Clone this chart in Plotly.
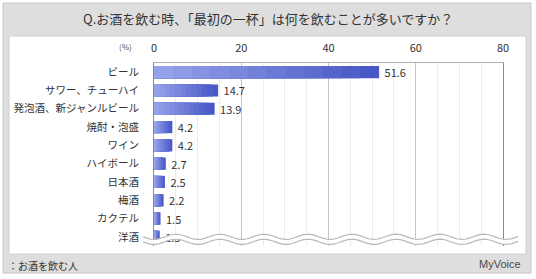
import numpy as np
import plotly.graph_objects as go

categories = ["ビール", "サワー、チューハイ", "発泡酒、新ジャンルビール", "焼酎・泡盛", "ワイン",
              "ハイボール", "日本酒", "梅酒", "カクテル", "洋酒"]
values = [51.6, 14.7, 13.9, 4.2, 4.2, 2.7, 2.5, 2.2, 1.5, 1.3]
x_ticks = [0, 20, 40, 60, 80]

W, H = 536, 279
L, R, T, B = 154, 33, 63, 33
PW, PH = W - L - R, H - T - B
FONT = "Noto Sans CJK JP, Meiryo, sans-serif"

def px(x):
    return (x - L) / PW

def py(y):
    return 1 - (y - T) / PH

fig = go.Figure()

# gradient bars (dark at right end, lighter toward left) via overlaid layers
N = 12
dark = np.array([0x48, 0x58, 0xc6])
light = np.array([0x95, 0xa2, 0xea])
for k in range(N):
    frac = (N - k) / N
    c = dark + (light - dark) * (k / (N - 1))
    col = "rgb(%d,%d,%d)" % tuple(c.astype(int))
    fig.add_trace(go.Bar(
        y=categories, x=[v * frac for v in values], orientation="h",
        marker=dict(color=col, line=dict(width=0)),
        width=0.66,
        text=["\u00a0" + f"{v:.1f}" for v in values] if k == 0 else None,
        textposition="outside" if k == 0 else "none",
        constraintext="none",
        textfont=dict(size=11, color="#333333", family=FONT),
        cliponaxis=False, hoverinfo="skip", showlegend=False,
    ))

fig.update_layout(
    width=W, height=H, margin=dict(l=L, r=R, t=T, b=B),
    paper_bgcolor="white", plot_bgcolor="white",
    barmode="overlay", bargap=0.3,
    font=dict(family=FONT, color="#333333"),
    showlegend=False,
)
fig.update_xaxes(
    side="top", range=[0, 80], tickvals=x_ticks, ticktext=[str(t) for t in x_ticks],
    showgrid=True, gridcolor="#c4c4c4", gridwidth=1,
    minor=dict(dtick=5, showgrid=True, gridcolor="#ececec", gridwidth=1),
    showline=True, linecolor="#b0b0b0", linewidth=1, mirror=False,
    ticks="", ticklabelstandoff=6, tickfont=dict(size=11, color="#333333"),
    zeroline=False, fixedrange=True,
)
fig.update_yaxes(
    autorange="reversed", showgrid=False,
    showline=True, linecolor="#8a8a8a", linewidth=1, mirror=True,
    ticks="", ticklabelstandoff=12, tickfont=dict(size=10.5, color="#333333"),
    fixedrange=True,
)

shapes = []
# outer gray panel
shapes.append(dict(type="rect", xref="paper", yref="paper", layer="below",
                   x0=px(3), x1=px(531), y0=py(3), y1=py(273),
                   fillcolor="#dedede", line=dict(color="#c6c6c6", width=1)))
# inner white panel
shapes.append(dict(type="rect", xref="paper", yref="paper", layer="below",
                   x0=px(9), x1=px(526), y0=py(36), y1=py(254),
                   fillcolor="#ffffff", line=dict(color="#cfcfcf", width=1)))

# wavy break at the bottom
xs = np.linspace(143, 518, 120)
wl = 44.0
amp = 2.6
top = 236.8 + amp * np.sin(2 * np.pi * (xs - 143) / wl)
bot = top + 5.0
pts_top = [(px(x), py(y)) for x, y in zip(xs, top)]
pts_bot = [(px(x), py(y)) for x, y in zip(xs, bot)]
path_fill = "M " + " L ".join(f"{a:.4f},{b:.4f}" for a, b in pts_top) + " L " + \
    " L ".join(f"{a:.4f},{b:.4f}" for a, b in pts_bot[::-1]) + " Z"
shapes.append(dict(type="path", xref="paper", yref="paper", layer="above",
                   path=path_fill, fillcolor="white", line=dict(width=0)))
for pts in (pts_top, pts_bot):
    shapes.append(dict(type="path", xref="paper", yref="paper", layer="above",
                       path="M " + " L ".join(f"{a:.4f},{b:.4f}" for a, b in pts),
                       line=dict(color="#b8b8b8", width=1.2)))
fig.update_layout(shapes=shapes)

annotations = [
    dict(text="Q.お酒を飲む時、「最初の一杯」は何を飲むことが多いですか？",
         x=px(268), y=py(19), xref="paper", yref="paper", showarrow=False,
         xanchor="center", yanchor="middle", font=dict(size=13, color="#333333")),
    dict(text="(%)", x=px(134), y=py(47), xref="paper", yref="paper", showarrow=False,
         xanchor="right", yanchor="middle", font=dict(size=8, color="#555555")),
    dict(text="：お酒を飲む人", x=px(6), y=py(265), xref="paper", yref="paper",
         showarrow=False, xanchor="left", yanchor="middle",
         font=dict(size=10, color="#333333")),
    dict(text="MyVoice", x=px(523), y=py(264), xref="paper", yref="paper",
         showarrow=False, xanchor="right", yanchor="middle",
         font=dict(size=11, color="#4a4a4a", family="Liberation Sans Narrow, Liberation Sans, sans-serif")),
]
fig.update_layout(annotations=annotations)

fig.write_html("out.html")
